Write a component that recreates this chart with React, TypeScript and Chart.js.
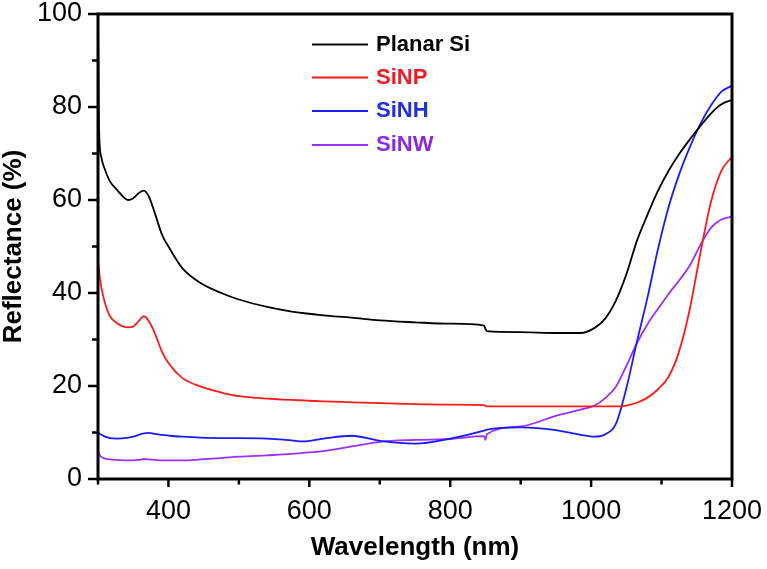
import React, { useEffect, useRef } from "react";
import { Chart, registerables } from "chart.js";

Chart.register(...registerables);

const wavelengths = [300, 301, 302, 305, 310, 317, 327, 343, 350, 358, 365, 372, 380, 391, 402, 420, 445, 475, 500, 540, 575, 590, 620, 660, 700, 750, 800, 848, 850, 852, 900, 950, 985, 1005, 1020, 1035, 1050, 1065, 1080, 1095, 1110, 1125, 1140, 1155, 1170, 1185, 1200];

const planarSi = [100, 80, 73, 69, 66.5, 64, 62.2, 60, 60.4, 61.5, 62, 60.8, 57.5, 52.5, 49.5, 45.3, 42.2, 40, 38.6, 37, 36, 35.7, 35.2, 34.7, 34.1, 33.7, 33.4, 33.0, 32.3, 31.8, 31.6, 31.4, 31.4, 32.5, 34.5, 38.3, 44, 51.2, 56.8, 62, 66.3, 69.9, 73, 75.9, 78.6, 80.6, 81.5];

const siNP = [47, 45.5, 44, 41, 37.8, 35, 33.5, 32.6, 32.8, 34, 35, 34, 31.6, 27.3, 24.5, 21.7, 19.9, 18.6, 17.8, 17.3, 17.0, 16.9, 16.7, 16.5, 16.3, 16.1, 16.0, 15.9, 15.7, 15.6, 15.6, 15.6, 15.6, 15.6, 15.6, 15.6, 15.8, 16.4, 17.5, 19.3, 22, 27.5, 36.5, 48.5, 59.5, 66.3, 69.3];

const siNH = [10, 9.9, 9.8, 9.5, 9.1, 8.8, 8.7, 8.9, 9.1, 9.5, 9.8, 9.9, 9.7, 9.5, 9.3, 9.1, 8.9, 8.8, 8.8, 8.7, 8.3, 8.1, 8.7, 9.3, 8.2, 7.6, 8.7, 10.4, 10.5, 10.6, 11.1, 10.5, 9.5, 9.1, 9.6, 11.8, 19.5, 29.5, 39, 49.5, 58.5, 65.5, 71.3, 76.3, 80.3, 83.3, 84.6];

const siNW = [5.9, 5.5, 5.2, 4.7, 4.4, 4.2, 4.1, 4.0, 4.0, 4.1, 4.3, 4.2, 4.1, 4.0, 4.0, 4.0, 4.2, 4.5, 4.8, 5.1, 5.4, 5.6, 6.0, 7.0, 8.0, 8.4, 8.6, 9.2, 8.4, 9.6, 11.3, 13.6, 14.9, 15.8, 17.4, 19.8, 24.3, 29.2, 33.3, 36.6, 39.8, 42.7, 45.9, 50.3, 54, 55.8, 56.4];

const seriesLabels = ["Planar Si", "SiNP", "SiNH", "SiNW"];
const seriesColors = ["#000000", "#ff1a1a", "#1a1aff", "#9b30ff"];
const labelColors = ["#000000", "#ee1c25", "#1f2fe6", "#8a2be2"];

const xTicks = [300, 400, 500, 600, 700, 800, 900, 1000, 1100, 1200];
const yTicks = [0, 10, 20, 30, 40, 50, 60, 70, 80, 90, 100];

const FONT = "'Liberation Sans', Arial, Helvetica, sans-serif";

const framePlugin = {
  id: "frameAndTicks",
  afterDraw(chart: any) {
    const { ctx, chartArea } = chart;
    const xs = chart.scales.x;
    const ys = chart.scales.y;
    ctx.save();
    ctx.strokeStyle = "#000";
    ctx.lineWidth = 3;
    ctx.strokeRect(chartArea.left, chartArea.top, chartArea.right - chartArea.left, chartArea.bottom - chartArea.top);
    ctx.lineWidth = 2.5;
    ctx.beginPath();
    for (const v of xTicks) {
      const px = xs.getPixelForValue(v);
      const len = v % 200 === 0 ? 8 : 5.5;
      ctx.moveTo(px, chartArea.bottom);
      ctx.lineTo(px, chartArea.bottom + len);
    }
    for (const v of yTicks) {
      const py = ys.getPixelForValue(v);
      const len = v % 20 === 0 ? 10 : 6;
      ctx.moveTo(chartArea.left, py);
      ctx.lineTo(chartArea.left - len, py);
    }
    ctx.stroke();

    // legend
    const rows = [44.5, 77.5, 111, 145];
    chart.data.datasets.forEach((ds: any, i: number) => {
      const y = rows[i];
      ctx.strokeStyle = ds.borderColor;
      ctx.lineWidth = 1.8;
      ctx.beginPath();
      ctx.moveTo(312, y);
      ctx.lineTo(368, y);
      ctx.stroke();
      ctx.fillStyle = labelColors[i];
      ctx.font = "bold 22px " + FONT;
      ctx.textBaseline = "middle";
      ctx.textAlign = "left";
      ctx.fillText(ds.label, 376, y);
    });
    ctx.restore();
  },
};

const zeroPad = (scale: any) => {
  scale.paddingTop = 0;
  scale.paddingBottom = 0;
  scale.paddingLeft = 0;
  scale.paddingRight = 0;
};

export default function App() {
  const ref = useRef<HTMLCanvasElement | null>(null);
  useEffect(() => {
    if (!ref.current) return;
    const seriesValues = [planarSi, siNP, siNH, siNW];
    const chart = new Chart(ref.current, {
      type: "line",
      data: {
        datasets: seriesValues.map((vals, i) => ({
          label: seriesLabels[i],
          data: wavelengths.map((w, j) => ({ x: w, y: vals[j] })),
          borderColor: seriesColors[i],
          backgroundColor: seriesColors[i],
          borderWidth: 1.8,
          pointRadius: 0,
          cubicInterpolationMode: "monotone" as const,
          fill: false,
        })),
      },
      options: {
        responsive: false,
        animation: false,
        layout: { padding: { top: 14, right: 35, left: 0, bottom: 0 } },
        plugins: { legend: { display: false }, tooltip: { enabled: false } },
        scales: {
          x: {
            type: "linear",
            min: 300,
            max: 1200,
            afterBuildTicks: (scale: any) => {
              scale.ticks = xTicks.map((v) => ({ value: v }));
            },
            afterFit: (scale: any) => {
              scale.height = 90;
              zeroPad(scale);
            },
            ticks: {
              autoSkip: false,
              maxRotation: 0,
              padding: 8,
              color: "#000",
              font: { family: FONT, size: 27 },
              callback: (v: any) => (Number(v) % 200 === 0 ? String(v) : ""),
            },
            grid: { display: true, drawOnChartArea: false, drawTicks: true, tickLength: 8, tickColor: "rgba(0,0,0,0)", color: "rgba(0,0,0,0)" },
            border: { display: false },
            title: {
              display: true,
              text: "Wavelength (nm)",
              color: "#000",
              font: { family: FONT, size: 26, weight: "bold", lineHeight: 1 },
              padding: { top: 0, bottom: 8 },
            },
          },
          y: {
            type: "linear",
            min: 0,
            max: 100,
            afterBuildTicks: (scale: any) => {
              scale.ticks = yTicks.map((v) => ({ value: v }));
            },
            afterFit: (scale: any) => {
              scale.width = 98;
              zeroPad(scale);
            },
            ticks: {
              autoSkip: false,
              padding: 6,
              color: "#000",
              font: { family: FONT, size: 27 },
              callback: (v: any) => (Number(v) % 20 === 0 ? String(v) : ""),
            },
            grid: { display: true, drawOnChartArea: false, drawTicks: true, tickLength: 10, tickColor: "rgba(0,0,0,0)", color: "rgba(0,0,0,0)" },
            border: { display: false },
            title: {
              display: true,
              text: "Reflectance (%)",
              color: "#000",
              font: { family: FONT, size: 26, weight: "bold", lineHeight: 1 },
              padding: { top: 1, bottom: 0 },
            },
          },
        },
      },
      plugins: [framePlugin],
    });
    return () => chart.destroy();
  }, []);
  return (
    <div style={{ position: "fixed", left: 0, top: 0, width: 767, height: 569, background: "#fff" }}>
      <canvas ref={ref} width={767} height={569} />
    </div>
  );
}
